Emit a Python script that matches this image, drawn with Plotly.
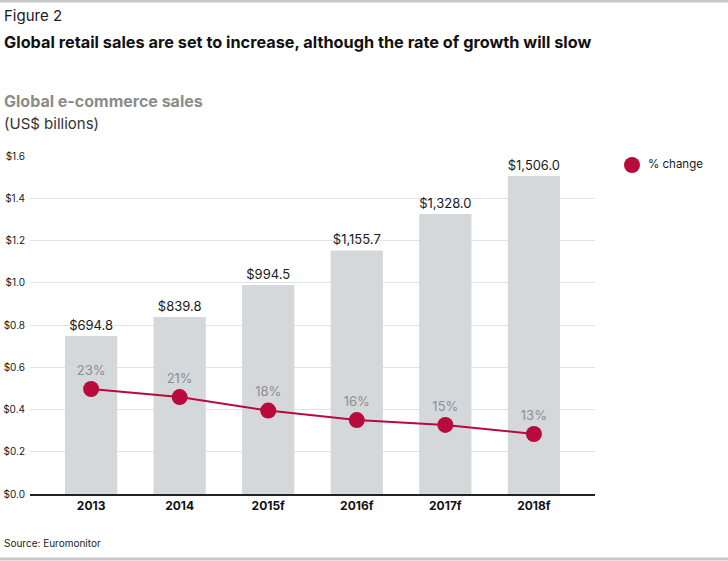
import plotly.graph_objects as go

categories = ["2013", "2014", "2015f", "2016f", "2017f", "2018f"]
sales_height = [0.748, 0.838, 0.989, 1.153, 1.326, 1.505]  # bar heights as drawn (US$ trillions)
sales_labels = ["$694.8", "$839.8", "$994.5", "$1,155.7", "$1,328.0", "$1,506.0"]
change_pos = [0.497, 0.459, 0.395, 0.350, 0.327, 0.284]
change_labels = ["23%", "21%", "18%", "16%", "15%", "13%"]
y_ticks = [0, 0.2, 0.4, 0.6, 0.8, 1.0, 1.2, 1.4, 1.6]
y_tick_labels = ["$0.0", "$0.2", "$0.4", "$0.6", "$0.8", "$1.0", "$1.2", "$1.4", "$1.6"]
legend_label = "% change"

FONT = "Inter"
RED = "#b80a3c"
BAR = "#d5d8db"

W, H = 728, 561
L, R, T, B = 30, 133, 156, 67
PW, PH = W - L - R, H - T - B


def px_x(px):
    return (px - L) / PW


def px_y(py):
    return (H - B - py) / PH


fig = go.Figure()
fig.add_trace(go.Bar(
    x=categories, y=sales_height, marker_color=BAR, marker_line_width=0,
    text=sales_labels, textposition="outside", cliponaxis=False,
    textfont=dict(family=FONT, size=13, color="#1a1a1a"), showlegend=False,
    hoverinfo="skip",
))
fig.add_trace(go.Scatter(
    x=categories, y=change_pos, mode="lines+markers+text",
    line=dict(color=RED, width=2), marker=dict(color=RED, size=16),
    text=change_labels, textposition="top center",
    textfont=dict(family=FONT, size=13, color="#8a8f94"),
    showlegend=False, cliponaxis=False,
))

annotations = [
    dict(text="Figure 2", x=px_x(2), y=px_y(15), size=15, color="#1a1a1a"),
    dict(text="<b>Global retail sales are set to increase, although the rate of growth will slow</b>",
         x=px_x(2), y=px_y(42), size=16.3, color="#111111"),
    dict(text="<b>Global e-commerce sales</b>", x=px_x(2), y=px_y(101), size=16, color="#8c8c8c"),
    dict(text="(US$ billions)", x=px_x(2), y=px_y(124), size=15, color="#333333"),
    dict(text="Source: Euromonitor", x=px_x(2), y=px_y(543), size=10, color="#222222"),
    dict(text=legend_label, x=px_x(646), y=px_y(164), size=11.5, color="#1a1a1a"),
]
for a in annotations:
    fig.add_annotation(
        text=a["text"], x=a["x"], y=a["y"], xref="paper", yref="paper",
        xanchor="left", yanchor="middle", showarrow=False,
        font=dict(family=FONT, size=a["size"], color=a["color"]),
    )

# legend symbol
fig.add_shape(type="circle", xref="paper", yref="paper",
              x0=px_x(624), x1=px_x(640), y0=px_y(173), y1=px_y(157),
              fillcolor=RED, line=dict(width=0))
# page border lines
fig.add_shape(type="line", xref="paper", yref="paper", x0=px_x(0), x1=px_x(W), y0=px_y(1), y1=px_y(1),
              line=dict(color="#c8c8c8", width=3))
fig.add_shape(type="line", xref="paper", yref="paper", x0=px_x(0), x1=px_x(W), y0=px_y(559), y1=px_y(559),
              line=dict(color="#c8c8c8", width=3))

fig.update_layout(
    width=W, height=H,
    margin=dict(l=L, r=R, t=T, b=B, autoexpand=False),
    paper_bgcolor="white", plot_bgcolor="white",
    bargap=0.41,
    showlegend=False,
    font=dict(family=FONT, color="#1a1a1a"),
    xaxis=dict(
        range=[-0.69, 5.69], showgrid=False, showline=True, linecolor="#222222", linewidth=2,
        ticks="", tickfont=dict(family=FONT, size=12, color="#111111", weight="bold"),
        fixedrange=True, automargin=False,
    ),
    yaxis=dict(
        range=[0, 1.6], tickvals=y_ticks, ticktext=y_tick_labels,
        showgrid=True, gridcolor="#e3e3e3", gridwidth=1, zeroline=False,
        tickfont=dict(family=FONT, size=10, color="#1a1a1a"), ticks="", ticklabelstandoff=4,
        fixedrange=True, automargin=False,
    ),
)

fig.write_html("out.html", config={"displayModeBar": False},
               post_script="document.body.style.margin='0';document.body.style.padding='0';")
